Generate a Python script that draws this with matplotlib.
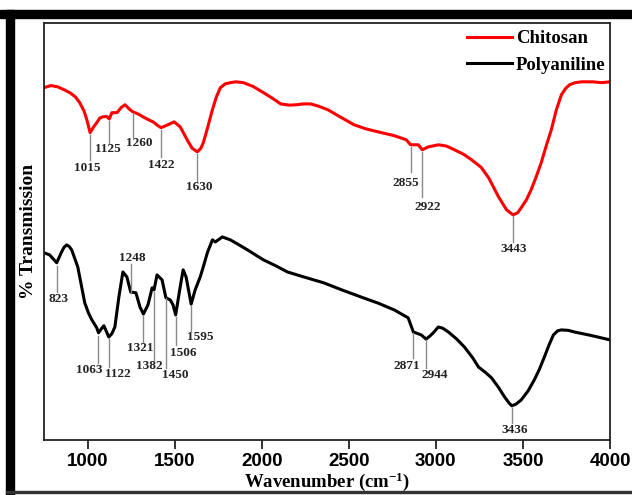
import matplotlib
matplotlib.use('Agg')
import matplotlib.pyplot as plt
from matplotlib.patches import Rectangle

# Espectros FTIR: número de onda (cm-1) y % de transmisión (escala relativa)
wn_quitosano = [750, 790, 828, 865, 898, 930, 955, 980, 996, 1015, 1035, 1053, 1070, 1088,
                1110, 1125, 1140, 1169, 1195, 1215, 1244, 1260, 1290, 1319, 1350, 1376,
                1400, 1422, 1462, 1497, 1532, 1572, 1600, 1630, 1650, 1665, 1690, 1717,
                1740, 1763, 1790, 1820, 1850, 1895, 1950, 2010, 2060, 2109, 2160, 2200,
                2240, 2282, 2330, 2380, 2450, 2530, 2600, 2668, 2760, 2830, 2855, 2899,
                2922, 2957, 3015, 3060, 3107, 3160, 3205, 3260, 3303, 3360, 3406, 3443,
                3470, 3490, 3520, 3547, 3575, 3605, 3635, 3663, 3692, 3721, 3745, 3768,
                3800, 3837, 3900, 3952, 4000]
t_quitosano = [84.5, 85.0, 84.7, 84.0, 83.3, 82.3, 80.9, 78.9, 76.8, 73.7, 75.1, 76.1,
               77.2, 77.5, 77.6, 77.0, 78.5, 78.5, 79.8, 80.4, 79.2, 78.7, 78.2, 77.5,
               76.8, 76.3, 75.5, 74.9, 75.6, 76.3, 75.1, 72.0, 70.0, 69.1, 69.9, 71.3,
               75.0, 79.2, 82.3, 84.5, 85.4, 85.7, 85.9, 85.7, 84.8, 83.3, 82.0, 80.6,
               80.3, 80.4, 80.6, 80.6, 80.0, 79.2, 77.5, 75.6, 74.6, 73.9, 73.0, 72.0,
               70.8, 70.8, 69.6, 70.3, 70.8, 70.5, 69.6, 68.5, 67.2, 65.4, 62.9, 58.3,
               55.2, 54.0, 54.5, 55.7, 57.6, 60.0, 63.0, 66.5, 70.7, 74.4, 79.2, 82.8,
               84.3, 85.2, 85.7, 85.9, 85.9, 85.7, 85.9]

wn_polianilina = [750, 782, 823, 851, 865, 880, 895, 909, 944, 965, 984, 1005, 1025, 1053,
                  1063, 1080, 1094, 1122, 1140, 1157, 1180, 1203, 1226, 1248, 1278, 1301,
                  1321, 1347, 1371, 1382, 1399, 1428, 1450, 1475, 1491, 1506, 1532, 1549,
                  1566, 1595, 1618, 1647, 1668, 1688, 1717, 1734, 1774, 1820, 1870, 1918,
                  2010, 2080, 2148, 2250, 2356, 2460, 2570, 2670, 2761, 2841, 2871, 2916,
                  2944, 2965, 2985, 3014, 3040, 3072, 3120, 3164, 3210, 3245, 3285, 3320,
                  3360, 3395, 3420, 3436, 3460, 3490, 3530, 3565, 3595, 3623, 3650, 3675,
                  3700, 3721, 3760, 3796, 3877, 3940, 4000]
t_polianilina = [44.9, 44.4, 42.5, 45.1, 46.2, 46.8, 46.4, 45.6, 41.5, 37.0, 32.9, 30.5,
                 28.8, 26.9, 25.7, 26.7, 27.4, 24.7, 25.5, 27.1, 34.3, 40.3, 39.1, 35.5,
                 35.3, 31.9, 30.2, 32.4, 36.5, 36.0, 39.6, 38.4, 34.1, 33.6, 32.4, 30.0,
                 36.7, 40.8, 39.1, 32.6, 36.0, 39.1, 42.0, 44.9, 48.0, 47.5, 48.7, 48.0,
                 46.8, 45.6, 43.2, 41.8, 40.3, 39.0, 37.7, 36.0, 34.3, 32.8, 31.2, 29.3,
                 25.9, 25.2, 24.2, 24.9, 25.7, 27.1, 26.8, 25.9, 24.2, 22.3, 19.8, 17.5,
                 16.2, 14.9, 12.6, 10.3, 8.9, 8.2, 8.6, 9.6, 11.8, 14.4, 17.0, 19.9,
                 22.8, 25.2, 26.2, 26.4, 26.3, 25.9, 25.2, 24.6, 24.0]

# Bandas marcadas en cada espectro
picos_quitosano = [1015, 1125, 1260, 1422, 1630, 2855, 2922, 3443]
picos_polianilina = [823, 1248, 1063, 1122, 1321, 1382, 1450, 1506, 1595, 2871, 2944, 3436]

# Ubicación de cada etiqueta: (inicio línea, fin línea, desplazamiento x del texto, altura del texto)
pos_quitosano = [(73.2, 67.2, -17, 65.3), (76.6, 71.3, -6, 69.8), (78.5, 72.7, 35, 71.3),
                 (74.4, 67.9, 0, 66.0), (68.6, 62.2, 12, 60.7), (70.3, 64.3, -29, 61.7),
                 (69.1, 58.3, 29, 55.9), (53.8, 47.5, 6, 45.8)]
pos_polianilina = [(41.8, 35.5, 12, 33.8), (42.2, 35.5, 12, 43.7), (25.0, 18.5, -52, 16.8),
                   (24.2, 17.5, 52, 15.8), (29.8, 23.5, -17, 22.1), (35.5, 19.2, -29, 17.8),
                   (34.1, 17.3, 52, 15.6), (29.5, 22.8, 46, 20.9), (32.2, 26.2, 52, 24.7),
                   (25.7, 19.7, -40, 17.8), (24.0, 17.3, 52, 15.6), (7.7, 4.1, 17, 2.4)]

serif = 'Liberation Serif'
plt.rcParams['mathtext.fontset'] = 'custom'
plt.rcParams['mathtext.rm'] = 'Liberation Serif:bold'
plt.rcParams['mathtext.it'] = 'Liberation Serif:bold'
plt.rcParams['mathtext.bf'] = 'Liberation Serif:bold'

fig = plt.figure(figsize=(6.32, 4.95), dpi=100)
ax = fig.add_axes([0.0696, 0.1111, 0.8956, 0.8424])

ax.plot(wn_quitosano, t_quitosano, color='#ff0000', linewidth=2.2,
        solid_joinstyle='round', label='Chitosan')
ax.plot(wn_polianilina, t_polianilina, color='#000000', linewidth=2.2,
        solid_joinstyle='round', label='Polyaniline')

# Líneas guía y números de cada banda
for picos, posiciones in [(picos_quitosano, pos_quitosano), (picos_polianilina, pos_polianilina)]:
    for pico, (y0, y1, dx, yt) in zip(picos, posiciones):
        ax.plot([pico, pico], [y0, y1], color='#8a8a8a', linewidth=1.0)
        ax.text(pico + dx, yt, str(pico), ha='center', va='center',
                fontsize=9.5, fontweight='bold', family=serif, color='#222222')

ax.set_xlim(750, 4000)
ax.set_ylim(0, 100)
ax.set_xticks([1000, 1500, 2000, 2500, 3000, 3500, 4000])
ax.set_yticks([])
ax.tick_params(axis='x', direction='out', length=6.5, width=1.3, color='#222222',
               labelsize=13.5, pad=3)
for lbl in ax.get_xticklabels():
    lbl.set_fontfamily('Liberation Sans')
    lbl.set_fontweight('bold')
for sp in ax.spines.values():
    sp.set_linewidth(1.3)
    sp.set_color('#222222')

ax.set_xlabel('Wavenumber (cm$^{-1}$)', fontsize=13.5, fontweight='bold', family=serif)
ax.xaxis.set_label_coords(0.5, -0.072)
ax.set_ylabel('% Transmission', fontsize=14, fontweight='bold', family=serif)
ax.yaxis.set_label_coords(-0.013, 0.5)

leg = ax.legend(loc='upper right', bbox_to_anchor=(1.012, 1.01), frameon=False,
                prop={'family': serif, 'weight': 'bold', 'size': 13.5},
                handlelength=2.4, handletextpad=0.2, labelspacing=0.5, borderaxespad=0.2)

# Marco negro alrededor de la figura
fig.add_artist(Rectangle((0, 1 - 18 / 495), 1, 8 / 495, transform=fig.transFigure,
                         color='black', zorder=10))
fig.add_artist(Rectangle((6 / 632, 0), 8 / 632, 1 - 10 / 495, transform=fig.transFigure,
                         color='black', zorder=10))
fig.add_artist(Rectangle((6 / 632, 2 / 495), 1, 2 / 495, transform=fig.transFigure,
                         color='#333333', zorder=10))

fig.savefig('out.png', dpi=100)
